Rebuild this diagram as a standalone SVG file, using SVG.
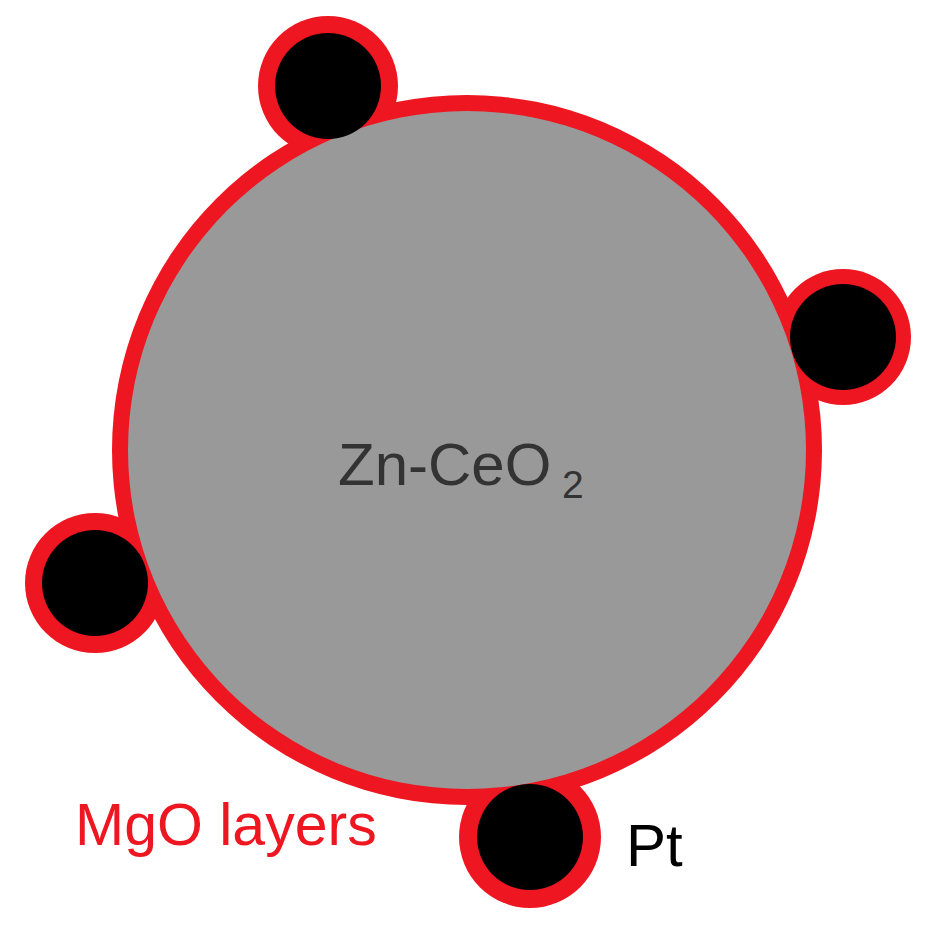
<svg xmlns="http://www.w3.org/2000/svg" width="931" height="947" viewBox="0 0 931 947">
<style>
.red{fill:#ee1620}
.core{fill:#999999}
.pt{fill:#000000}
.lbl{font-family:"Liberation Sans",Arial,sans-serif}
</style>
<rect width="931" height="947" fill="#ffffff"/>
<g id="mgo-layers">
<circle class="red" cx="467" cy="450" r="355"/>
<circle class="red" cx="328" cy="86" r="70"/>
<circle class="red" cx="843" cy="337" r="68"/>
<circle class="red" cx="95" cy="583" r="70"/>
<circle class="red" cx="530" cy="837" r="71"/>
</g>
<g id="core">
<circle class="core" cx="467" cy="450" r="339"/>
<text class="lbl" x="338" y="485" font-size="60" fill="#333333">Zn-CeO<tspan x="562" y="498" font-size="39">2</tspan></text>
</g>
<g id="pt-top"><circle class="pt" cx="328" cy="86" r="53"/></g>
<g id="pt-right"><circle class="pt" cx="843" cy="337" r="53"/></g>
<g id="pt-left"><circle class="pt" cx="95" cy="583" r="53"/></g>
<g id="pt-bottom"><circle class="pt" cx="530" cy="837" r="53"/></g>
<g id="labels">
<text class="lbl" x="75" y="845" font-size="59" fill="#ee1620">MgO layers</text>
<text class="lbl" x="626" y="866" font-size="60" fill="#000000">Pt</text>
</g>
<g id="connectors"></g>
</svg>
